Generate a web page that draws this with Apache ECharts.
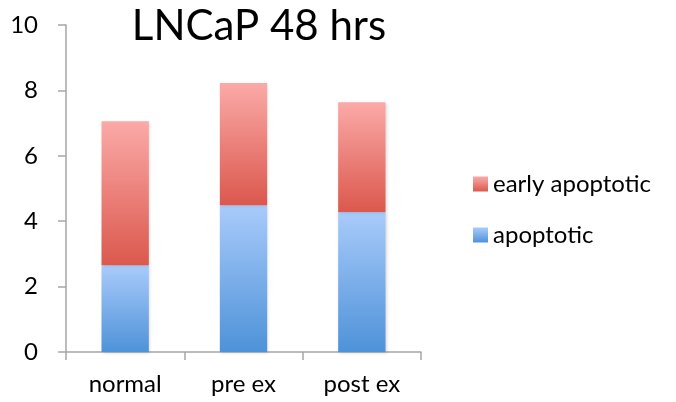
<!DOCTYPE html>
<html><head><meta charset="utf-8">
<script src="https://cdn.jsdelivr.net/npm/echarts@6/dist/echarts.min.js"></script>
<style>html,body{margin:0;padding:0;background:#fff}#c{width:676px;height:402px}</style>
</head><body><div id="c"></div>
<script>
const categories = ['normal', 'pre ex', 'post ex'];
const apoptotic = [2.65, 4.49, 4.28];
const earlyApoptotic = [4.41, 3.74, 3.36];
const yTicks = [0, 2, 4, 6, 8, 10];

const font = 'Lato, "Open Sans", sans-serif';
function grad(top, bottom) {
  return new echarts.graphic.LinearGradient(0, 0, 0, 1, [
    {offset: 0, color: top}, {offset: 1, color: bottom}
  ]);
}
const chart = echarts.init(document.getElementById('c'));
chart.setOption({
  animation: false,
  title: {
    text: 'LNCaP 48 hrs', left: 254, top: 0, textAlign: 'center',
    textStyle: {fontFamily: font, fontSize: 42, fontWeight: 'normal', color: '#000'}
  },
  legend: {
    orient: 'vertical', left: 468, top: 167, itemGap: 27,
    itemWidth: 15, itemHeight: 15, icon: 'rect',
    data: ['early apoptotic', 'apoptotic'],
    textStyle: {fontFamily: font, fontSize: 24, color: '#000', padding: [0, 0, 0, 0]}
  },
  grid: {left: 66, right: 255, top: 25, bottom: 50},
  xAxis: {
    type: 'category', data: categories,
    axisLine: {lineStyle: {color: '#a6a6a6', width: 1.5}},
    axisTick: {show: true, length: 8, lineStyle: {color: '#a6a6a6', width: 1.5}},
    axisLabel: {fontFamily: font, fontSize: 24, color: '#000', margin: 20}
  },
  yAxis: {
    type: 'value', min: yTicks[0], max: yTicks[yTicks.length - 1], interval: 2,
    axisLine: {show: true, lineStyle: {color: '#a6a6a6', width: 1.5}},
    axisTick: {show: true, length: 8, lineStyle: {color: '#a6a6a6', width: 1.5}},
    splitLine: {show: false},
    axisLabel: {fontFamily: font, fontSize: 24, color: '#000', margin: 28}
  },
  series: [
    {
      name: 'apoptotic', type: 'bar', stack: 'a', data: apoptotic, barWidth: '40%',
      itemStyle: {color: grad('#a9cbfb', '#4e92d8'), shadowColor: 'rgba(0,0,0,0.15)', shadowBlur: 3, shadowOffsetX: 1, shadowOffsetY: 1}
    },
    {
      name: 'early apoptotic', type: 'bar', stack: 'a', data: earlyApoptotic, barWidth: '40%',
      itemStyle: {color: grad('#fbaaa8', '#db584d'), shadowColor: 'rgba(0,0,0,0.15)', shadowBlur: 3, shadowOffsetX: 1, shadowOffsetY: 1}
    }
  ]
});
</script></body></html>
